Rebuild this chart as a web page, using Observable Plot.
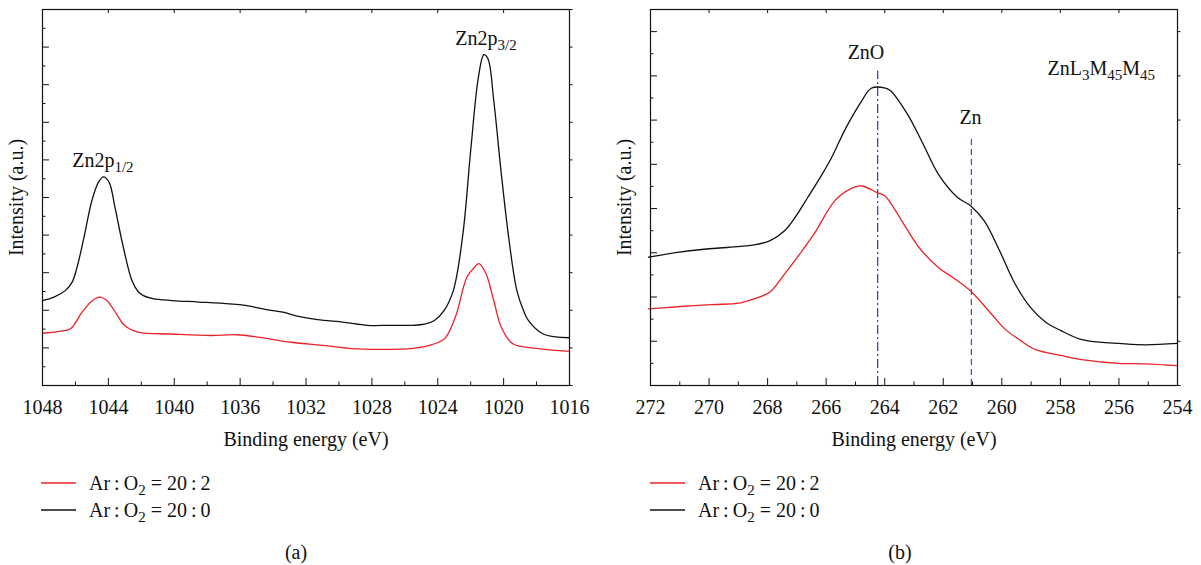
<!DOCTYPE html>
<html>
<head>
<meta charset="utf-8">
<script src="https://cdn.jsdelivr.net/npm/d3@7"></script>
<script src="https://cdn.jsdelivr.net/npm/@observablehq/plot@0.6"></script>
<style>
  body { margin: 0; background: #fff; }
  #wrap { position: relative; width: 1201px; height: 565px; font-family: "Liberation Serif", serif; color: #111; }
  .panel { position: absolute; top: 0; }
  .panel svg, .panel svg text { font-family: "Liberation Serif", serif; }
  .legend { position: absolute; font-size: 20px; line-height: 1; }
  .legend .row { position: absolute; display: flex; align-items: center; white-space: nowrap; transform: translateY(-50%); }
  .legend svg { display: block; }
  .legend sub { font-size: 0.75em; vertical-align: -0.3em; line-height: 0; }
  .caption { position: absolute; font-size: 20px; transform: translate(-50%, -50%); white-space: nowrap; }
</style>
</head>
<body>
<div id="wrap"></div>
<script>
// ---------- series ----------
const seriesLabels = ["Ar:O_{2} = 20:2", "Ar:O_{2} = 20:0"];
const seriesColors = ["#ec2227", "#111111"];

// Panel (a): Zn 2p
const aRedE = [1048, 1047, 1046.3, 1045.6, 1045.0, 1044.54, 1044.1, 1043.5, 1043.03, 1042.2, 1040.14, 1037.8, 1036.2, 1034.8, 1032.9, 1030.83, 1029.2, 1027.35, 1025.5, 1024.56, 1023.6, 1022.93, 1022.23, 1021.76, 1021.5, 1021.07, 1020.6, 1020.14, 1019.44, 1018.0, 1016];
const aRedI = [1.39, 1.44, 1.51, 1.95, 2.25, 2.35, 2.26, 1.90, 1.60, 1.42, 1.37, 1.33, 1.35, 1.28, 1.15, 1.06, 0.98, 0.96, 0.99, 1.06, 1.24, 1.82, 2.88, 3.15, 3.24, 2.97, 2.26, 1.55, 1.11, 0.99, 0.91];
const aBlackE = [1048, 1047.3, 1046.6, 1046.2, 1045.9, 1045.5, 1045.0, 1044.6, 1044.3, 1043.96, 1043.6, 1043.14, 1042.57, 1042.2, 1041.87, 1041.3, 1040.14, 1038.5, 1036.64, 1035.7, 1034.3, 1033.4, 1032.46, 1031.3, 1029.67, 1028.27, 1026.88, 1025.5, 1024.8, 1024.2, 1023.62, 1023.05, 1022.47, 1022.0, 1021.53, 1021.2, 1020.95, 1020.6, 1020.14, 1019.67, 1019.2, 1018.8, 1018.5, 1017.6, 1016];
const aBlackI = [2.26, 2.35, 2.53, 2.75, 3.15, 3.9, 4.92, 5.41, 5.55, 5.41, 4.74, 3.77, 2.79, 2.50, 2.39, 2.31, 2.26, 2.22, 2.17, 2.13, 2.01, 1.95, 1.84, 1.75, 1.68, 1.60, 1.60, 1.60, 1.63, 1.73, 1.99, 2.53, 4.04, 6.25, 8.2, 8.8, 8.69, 7.58, 5.63, 3.86, 2.53, 2.0, 1.73, 1.37, 1.27];

// Panel (b): Zn LMM
const bRedE = [272.07, 271.08, 269.9, 268.98, 268.46, 267.93, 267.47, 266.95, 266.42, 265.7, 265.18, 264.79, 264.26, 264.0, 263.35, 262.83, 262.17, 261.67, 261.06, 260.4, 259.9, 259.37, 258.84, 257.98, 257.2, 256.0, 255.1, 254];
const bRedI = [1.73, 1.78, 1.83, 1.86, 1.96, 2.11, 2.48, 2.93, 3.42, 4.18, 4.44, 4.51, 4.36, 4.29, 3.65, 3.12, 2.67, 2.44, 2.13, 1.65, 1.28, 1.02, 0.81, 0.68, 0.58, 0.50, 0.49, 0.45];
const bBlackE = [272.07, 271.08, 270.17, 269.38, 268.46, 267.93, 267.42, 267.02, 266.63, 266.17, 265.84, 265.32, 264.79, 264.46, 264.01, 263.81, 263.22, 262.69, 262.17, 261.51, 261.06, 260.6, 260.08, 259.55, 259.03, 258.5, 257.98, 257.33, 256.67, 256.0, 255.1, 254];
const bBlackI = [2.90, 3.01, 3.08, 3.12, 3.18, 3.27, 3.50, 3.84, 4.25, 4.74, 5.12, 5.83, 6.43, 6.72, 6.73, 6.67, 6.13, 5.46, 4.78, 4.25, 4.06, 3.72, 3.05, 2.30, 1.77, 1.43, 1.24, 1.05, 0.98, 0.95, 0.92, 0.95];

// ---------- axes ----------
const aXDomain = [1048, 1016];
const aYDomain = [0, 10];
const aXMajor = [1048, 1044, 1040, 1036, 1032, 1028, 1024, 1020, 1016];
const aXMinor = [1046, 1042, 1038, 1034, 1030, 1026, 1022, 1018];
const aYMajor = [0, 1, 2, 3, 4, 5, 6, 7, 8, 9, 10];
const aYMinor = [0.5, 1.5, 2.5, 3.5, 4.5, 5.5, 6.5, 7.5, 8.5, 9.5];

const bXDomain = [272, 254];
const bYDomain = [0, 8.5];
const bXMajor = [272, 270, 268, 266, 264, 262, 260, 258, 256, 254];
const bXMinor = [271, 269, 267, 265, 263, 261, 259, 257, 255];
const bYMajor = [0, 1, 2, 3, 4, 5, 6, 7, 8];
const bYMinor = [0.5, 1.5, 2.5, 3.5, 4.5, 5.5, 6.5, 7.5, 8.5];

const xLabel = "Binding energy (eV)";
const yLabel = "Intensity (a.u.)";

// ---------- annotations ----------
const aNoteText = ["Zn2p_{1/2}", "Zn2p_{3/2}"];
const aNoteE = [1044.33, 1021.07];
const aNoteI = [5.98, 9.23];
const aNoteAnchor = ["middle", "middle"];

const bNoteText = ["ZnO", "Zn", "ZnL_{3}M_{45}M_{45}"];
const bNoteE = [264.64, 261.07, 258.44];
const bNoteI = [7.52, 6.05, 7.16];
const bNoteAnchor = ["middle", "middle", "start"];

const bRefE = [264.24, 261.04];
const bRefTop = [7.11, 5.64];
const bRefDash = ["9,3,2,3", "6,4"];
const bRefColor = ["#2a3d9a", "#2f52c8"];

const captions = ["(a)", "(b)"];

// ---------- helpers ----------
const FONT = "'Liberation Serif', serif";
const FS = 20;

function toRows(E, I, k) { return E.map((e, i) => ({e, v: I[i], k})); }

function richTspans(textEl, src) {
  const parts = src.split(/(_\{[^}]*\})/).filter(s => s.length);
  textEl.textContent = "";
  const ns = "http://www.w3.org/2000/svg";
  let down = false;
  for (const p of parts) {
    const t = document.createElementNS(ns, "tspan");
    if (p.startsWith("_{")) {
      t.textContent = p.slice(2, -1);
      t.setAttribute("font-size", (FS * 0.75) + "px");
      if (!down) { t.setAttribute("dy", "5"); down = true; }
    } else {
      t.textContent = p;
      if (down) { t.setAttribute("dy", "-5"); down = false; }
    }
    textEl.appendChild(t);
  }
}

function richHTML(src) {
  return src.replace(/_\{([^}]*)\}/g, "<sub>$1</sub>").replace(/:/g, "\u2009:\u2009");
}

function makePanel(cfg) {
  const lines = [
    ...toRows(cfg.redE, cfg.redI, 0),
    ...toRows(cfg.blackE, cfg.blackI, 1)
  ];
  const notes = cfg.noteText.map((t, i) => ({t, e: cfg.noteE[i], v: cfg.noteI[i], a: cfg.noteAnchor[i]}));
  const marks = [];
  if (cfg.refE) {
    cfg.refE.forEach((e, i) => {
      marks.push(Plot.ruleX([e], {y1: 0, y2: cfg.refTop[i], stroke: cfg.refColor[i], strokeWidth: 1.2, strokeDasharray: cfg.refDash[i]}));
    });
  }
  [0, 1].forEach(k => {
    marks.push(Plot.line(lines.filter(d => d.k === k), {x: "e", y: "v", stroke: seriesColors[k], strokeWidth: 1.3, curve: "catmull-rom"}));
  });
  ["start", "middle"].forEach(anc => {
    const sub = notes.filter(d => d.a === anc);
    if (sub.length) marks.push(Plot.text(sub, {x: "e", y: "v", text: "t", textAnchor: anc, fontSize: FS, fontFamily: FONT, fill: "#111"}));
  });
  marks.push(
    Plot.axisX(cfg.xMajor, {anchor: "bottom", tickSize: -7, tickPadding: 21, tickFormat: d => String(d), fontSize: FS, fontFamily: FONT, fill: "#111", stroke: "#111",
      label: xLabel, labelAnchor: "center", labelOffset: 60, labelArrow: "none"}),
    Plot.axisX(cfg.xMinor, {anchor: "bottom", tickSize: -3.5, fill: "none", stroke: "#111", label: null}),
    Plot.axisX(cfg.xMajor, {anchor: "top", tickSize: -3, fill: "none", stroke: "#111", label: null}),
    Plot.axisY(cfg.yMajor, {anchor: "left", tickSize: -7, tickFormat: () => "", fontSize: FS, fontFamily: FONT, fill: "#111", stroke: "#111",
      label: yLabel, labelAnchor: "center", labelOffset: 34, labelArrow: "none"}),
    Plot.axisY(cfg.yMinor, {anchor: "left", tickSize: -3.5, fill: "none", stroke: "#111", label: null}),
    Plot.axisY(cfg.yMajor, {anchor: "right", tickSize: 2.5, fill: "none", stroke: "#111", label: null}),
    Plot.frame({stroke: "#111", strokeWidth: 1.2})
  );
  const svg = Plot.plot({
    width: 600, height: 450,
    marginLeft: cfg.ml, marginRight: cfg.mr, marginTop: 9, marginBottom: 65,
    style: "font-family: 'Liberation Serif', serif; font-size: 20px; color: #111; background: transparent; overflow: visible;",
    x: {domain: cfg.xDomain},
    y: {domain: cfg.yDomain},
    marks
  });
  svg.querySelectorAll('g[aria-label="text"] text').forEach(el => {
    richTspans(el, el.textContent);
  });
  return svg;
}

const wrap = document.getElementById("wrap");
const panels = [
  {left: 0, ml: 42, mr: 31, xDomain: aXDomain, yDomain: aYDomain, xMajor: aXMajor, xMinor: aXMinor, yMajor: aYMajor, yMinor: aYMinor,
   redE: aRedE, redI: aRedI, blackE: aBlackE, blackI: aBlackI, noteText: aNoteText, noteE: aNoteE, noteI: aNoteI, noteAnchor: aNoteAnchor,
   legendLeft: 41, capX: 296},
  {left: 600, ml: 50, mr: 23, xDomain: bXDomain, yDomain: bYDomain, xMajor: bXMajor, xMinor: bXMinor, yMajor: bYMajor, yMinor: bYMinor,
   redE: bRedE, redI: bRedI, blackE: bBlackE, blackI: bBlackI, noteText: bNoteText, noteE: bNoteE, noteI: bNoteI, noteAnchor: bNoteAnchor,
   refE: bRefE, refTop: bRefTop, refDash: bRefDash, refColor: bRefColor, legendLeft: 650, capX: 900}
];

panels.forEach((p, idx) => {
  const div = document.createElement("div");
  div.className = "panel";
  div.style.left = p.left + "px";
  div.appendChild(makePanel(p));
  wrap.appendChild(div);

  const leg = document.createElement("div");
  leg.className = "legend";
  leg.style.left = p.legendLeft + "px";
  leg.style.top = "483px";
  seriesLabels.forEach((lab, k) => {
    const row = document.createElement("div");
    row.className = "row";
    row.style.top = (k * 26.5) + "px";
    row.innerHTML = `<svg width="36" height="4"><line x1="0" x2="35" y1="2" y2="2" stroke="${seriesColors[k]}" stroke-width="1.3"/></svg><span style="margin-left:12px">${richHTML(lab)}</span>`;
    leg.appendChild(row);
  });
  wrap.appendChild(leg);

  const cap = document.createElement("div");
  cap.className = "caption";
  cap.style.left = p.capX + "px";
  cap.style.top = "552px";
  cap.textContent = captions[idx];
  wrap.appendChild(cap);
});
</script>
</body>
</html>
